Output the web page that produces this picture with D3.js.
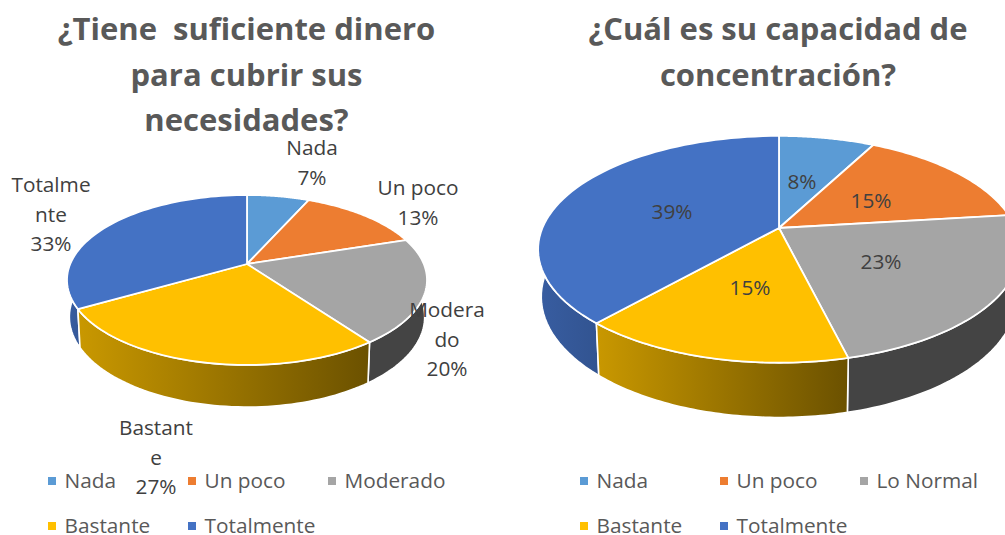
<!DOCTYPE html>
<html><head><meta charset="utf-8">
<style>html,body{margin:0;padding:0;background:#fff;overflow:hidden}svg{display:block}</style>
<script src="https://cdn.jsdelivr.net/npm/d3@7"></script></head>
<body><svg id="c" width="1005" height="535"></svg>
<script>
const colors = ["#5B9BD5","#ED7D31","#A5A5A5","#FFC000","#4472C4"];
const sideShades = [[.6,.6],[.6,.6],[.41,.41],[.79,.42],[.82,.74]];

const leftCategories = ["Nada","Un poco","Moderado","Bastante","Totalmente"];
const leftValues = [6.7,13.3,20,26.7,33.3];
const leftTitle = ["¿Tiene  suficiente dinero","para cubrir sus","necesidades?"];
const leftLabels = [["Nada","7%"],["Un poco","13%"],["Modera","do","20%"],["Bastant","e","27%"],["Totalme","nte","33%"]];

const rightCategories = ["Nada","Un poco","Lo Normal","Bastante","Totalmente"];
const rightValues = [7.7,15.4,23.1,15.4,38.5];
const rightTitle = ["¿Cuál es su capacidad de","concentración?"];
const rightLabels = [["8%"],["15%"],["23%"],["15%"],["39%"]];

const svg = d3.select("#c");
const defs = svg.append("defs");
const FONT = "'Open Sans','Noto Sans',sans-serif";
const k = 0.188, shrink = 0.987;

function drawChart(o){
  const {id,cats,vals,title,labels,cx,cy,R,Ry,depth,depthSlope,titleX,titleY,labelPos,legendX} = o;
  const g = svg.append("g");
  const project = a => {
    const u = Math.sin(a), v = -Math.cos(a), w = 1 - k*v;
    return [cx + R*u/w, cy + Ry*v/w];
  };
  const lower = ([x,y]) => [cx + (x-cx)*shrink, y + depth + (y-cy)*depthSlope];
  const arcs = d3.pie().sort(null).startAngle(0).endAngle(2*Math.PI)(vals);
  const samples = (a0,a1) => d3.range(0,61).map(i => project(a0 + (a1-a0)*i/60));
  const line = d3.line();

  // side walls, from the back to the front
  const order = arcs.map((d,i)=>i).sort((p,q)=>
    Math.cos((arcs[q].startAngle+arcs[q].endAngle)/2) - Math.cos((arcs[p].startAngle+arcs[p].endAngle)/2));
  const wall = g.append("g");
  order.forEach(i=>{
    const d = arcs[i];
    const top = samples(d.startAngle,d.endAngle);
    const poly = top.concat(top.map(lower).reverse());
    const front = top.filter((p,j)=>Math.cos(d.startAngle+(d.endAngle-d.startAngle)*j/60)<0.35);
    const xs = d3.extent(front.length?front:top,p=>p[0]);
    const gid = id+"-side-"+i;
    const c = d3.rgb(colors[i]), [s0,s1] = sideShades[i];
    const mix = (c,s)=>d3.rgb(c.r*s,c.g*s,c.b*s).formatHex();
    const lg = defs.append("linearGradient").attr("id",gid).attr("gradientUnits","userSpaceOnUse")
      .attr("x1",xs[0]).attr("x2",xs[1]).attr("y1",0).attr("y2",0);
    lg.append("stop").attr("offset",0).attr("stop-color",mix(c,s0));
    lg.append("stop").attr("offset",1).attr("stop-color",mix(c,s1));
    wall.append("path").attr("d",line(poly)+"Z").attr("fill",`url(#${gid})`)
      .attr("stroke","#fff").attr("stroke-width",1.6).attr("stroke-linejoin","round");
  });

  // top face
  g.append("g").selectAll("path").data(arcs).join("path")
    .attr("d",d=>line([[cx,cy],...samples(d.startAngle,d.endAngle)])+"Z")
    .attr("fill",(d,i)=>colors[i])
    .attr("stroke","#fff").attr("stroke-width",1.8).attr("stroke-linejoin","round");

  // title
  g.append("g").selectAll("text").data(title).join("text")
    .attr("x",titleX).attr("y",(d,i)=>titleY+i*45.5)
    .attr("text-anchor","middle").attr("fill","#595959")
    .attr("font-family",FONT).attr("font-weight",700).attr("font-size",o.titleSize)
    .style("white-space","pre").text(d=>d);

  // data labels
  labels.forEach((lines,i)=>{
    const [lx,ly] = labelPos[i];
    g.append("g").selectAll("text").data(lines).join("text")
      .attr("x",lx).attr("y",(d,j)=>ly+j*29.5)
      .attr("text-anchor","middle").attr("fill","#404040")
      .attr("font-family",FONT).attr("font-size",o.labelSize).text(d=>d);
  });

  // legend
  const rows = [[0,1,2],[3,4]];
  rows.forEach((r,ri)=>r.forEach((ci,cj)=>{
    const x = legendX + cj*140, y = 481 + ri*45;
    g.append("rect").attr("x",x).attr("y",y-4).attr("width",8).attr("height",8).attr("fill",colors[ci]);
    g.append("text").attr("x",x+16.5).attr("y",y+6.8).attr("fill","#595959")
      .attr("font-family",FONT).attr("font-size",o.legendSize).text(cats[ci]);
  }));
}

drawChart({id:"l",cats:leftCategories,vals:leftValues,title:leftTitle,labels:leftLabels,
  cx:247,cy:264,R:176.8,Ry:82,depth:36,depthSlope:.06,titleX:246.5,titleY:40,titleSize:31,labelSize:20.8,legendSize:20.8,legendX:48,
  labelPos:[[312,155],[418,195],[447,317],[156,435],[51,192]]});
drawChart({id:"r",cats:rightCategories,vals:rightValues,title:rightTitle,labels:rightLabels,
  cx:779,cy:228,R:236.6,Ry:109.4,depth:46,depthSlope:.065,titleX:778,titleY:40,titleSize:31,labelSize:20.8,legendSize:20.8,legendX:580,
  labelPos:[[802,189],[871,208],[881,269],[750,295],[672,219]]});
</script></body></html>
